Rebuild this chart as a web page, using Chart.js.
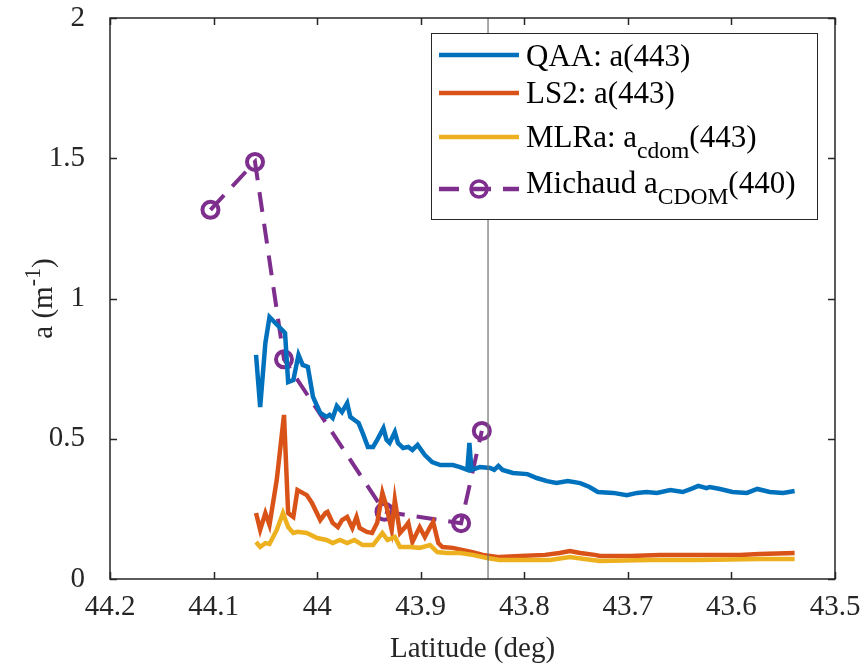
<!DOCTYPE html>
<html>
<head>
<meta charset="utf-8">
<script src="https://cdn.jsdelivr.net/npm/chart.js@4.4.1/dist/chart.umd.min.js"></script>
<style>
  html, body { margin: 0; padding: 0; background: #fff; }
</style>
</head>
<body>
<canvas id="absChart" width="867" height="669"></canvas>
<script>
// values
const qaaLat = [44.059, 44.055, 44.050, 44.046, 44.031, 44.028, 44.023, 44.018, 44.014, 44.009, 44.004, 43.997, 43.991, 43.988, 43.985, 43.981, 43.976, 43.971, 43.968, 43.964, 43.960, 43.956, 43.951, 43.946, 43.942, 43.936, 43.933, 43.930, 43.925, 43.922, 43.917, 43.912, 43.908, 43.903, 43.896, 43.889, 43.881, 43.875, 43.869, 43.862, 43.855, 43.853, 43.851, 43.843, 43.833, 43.829, 43.825, 43.821, 43.811, 43.797, 43.788, 43.778, 43.769, 43.758, 43.746, 43.737, 43.729, 43.714, 43.701, 43.691, 43.682, 43.672, 43.659, 43.647, 43.637, 43.632, 43.624, 43.621, 43.611, 43.599, 43.585, 43.575, 43.563, 43.550, 43.539];
const qaaA = [0.799, 0.613, 0.841, 0.934, 0.877, 0.702, 0.709, 0.799, 0.763, 0.756, 0.649, 0.592, 0.578, 0.585, 0.574, 0.617, 0.595, 0.627, 0.578, 0.567, 0.556, 0.520, 0.471, 0.471, 0.496, 0.538, 0.496, 0.485, 0.524, 0.485, 0.467, 0.471, 0.460, 0.478, 0.442, 0.417, 0.406, 0.406, 0.406, 0.399, 0.389, 0.485, 0.389, 0.399, 0.396, 0.389, 0.403, 0.389, 0.378, 0.374, 0.360, 0.349, 0.342, 0.349, 0.342, 0.328, 0.310, 0.307, 0.299, 0.307, 0.310, 0.307, 0.317, 0.310, 0.324, 0.332, 0.324, 0.328, 0.321, 0.310, 0.307, 0.321, 0.310, 0.307, 0.314];

const ls2Lat = [44.059, 44.055, 44.050, 44.046, 44.039, 44.032, 44.028, 44.023, 44.019, 44.014, 44.010, 44.005, 43.997, 43.992, 43.990, 43.985, 43.980, 43.976, 43.971, 43.966, 43.962, 43.959, 43.952, 43.947, 43.942, 43.937, 43.933, 43.928, 43.925, 43.920, 43.915, 43.912, 43.908, 43.901, 43.896, 43.891, 43.888, 43.883, 43.879, 43.869, 43.859, 43.850, 43.840, 43.824, 43.804, 43.780, 43.766, 43.756, 43.746, 43.732, 43.727, 43.698, 43.669, 43.631, 43.592, 43.573, 43.539];
const ls2A = [0.235, 0.175, 0.235, 0.193, 0.353, 0.585, 0.235, 0.221, 0.317, 0.307, 0.299, 0.271, 0.210, 0.235, 0.239, 0.200, 0.185, 0.210, 0.221, 0.182, 0.221, 0.182, 0.168, 0.164, 0.200, 0.307, 0.257, 0.175, 0.282, 0.164, 0.185, 0.200, 0.132, 0.185, 0.150, 0.185, 0.203, 0.128, 0.114, 0.111, 0.103, 0.096, 0.086, 0.078, 0.082, 0.086, 0.093, 0.100, 0.093, 0.086, 0.082, 0.082, 0.086, 0.086, 0.086, 0.089, 0.093];

const mlraLat = [44.059, 44.055, 44.050, 44.046, 44.039, 44.033, 44.028, 44.023, 44.019, 44.010, 44.000, 43.991, 43.985, 43.978, 43.971, 43.964, 43.956, 43.946, 43.937, 43.932, 43.925, 43.920, 43.910, 43.901, 43.891, 43.884, 43.875, 43.862, 43.850, 43.836, 43.824, 43.804, 43.775, 43.756, 43.742, 43.727, 43.679, 43.631, 43.573, 43.539];
const mlraA = [0.132, 0.114, 0.128, 0.125, 0.175, 0.235, 0.185, 0.164, 0.168, 0.164, 0.146, 0.139, 0.128, 0.139, 0.128, 0.139, 0.121, 0.121, 0.164, 0.139, 0.150, 0.114, 0.114, 0.111, 0.121, 0.096, 0.093, 0.093, 0.086, 0.075, 0.068, 0.068, 0.068, 0.078, 0.071, 0.064, 0.068, 0.068, 0.071, 0.071];

const michaudLat = [44.103, 44.060, 44.032, 43.935, 43.861, 43.841];
const michaudA = [1.316, 1.487, 0.783, 0.240, 0.199, 0.528];

const markerLat = 43.835;   // thin vertical reference line
const xTicks = [44.2, 44.1, 44.0, 43.9, 43.8, 43.7, 43.6, 43.5];
const yTicks = [0, 0.5, 1, 1.5, 2];

const FONT = '"Liberation Serif", "Times New Roman", serif';
const INK = '#262626';

function pts(xs, ys) {
    return xs.map((x, i) => ({ x: x, y: ys[i] }));
}

function fmt(v) {
    return String(Number(v.toFixed(1)));
}

// text with sub/superscripts, alphabetic baseline at y, returns end x
function drawRich(ctx, x, y, parts, size) {
    parts.forEach(p => {
        let s = size, dy = 0;
        if (p.sub) { s = size * 0.76; dy = size * 0.36; }
        if (p.sup) { s = size * 0.76; dy = -size * 0.4; }
        ctx.font = s + 'px ' + FONT;
        ctx.fillText(p.t, x, y + dy);
        x += ctx.measureText(p.t).width;
    });
    return x;
}

function richWidth(ctx, parts, size) {
    let w = 0;
    parts.forEach(p => {
        const s = (p.sub || p.sup) ? size * 0.76 : size;
        ctx.font = s + 'px ' + FONT;
        w += ctx.measureText(p.t).width;
    });
    return w;
}

const frame = {
    id: 'frame',
    afterDraw(chart) {
        const ctx = chart.ctx;
        const ca = chart.chartArea;
        const xs = chart.scales.x, ys = chart.scales.y;
        ctx.save();
        ctx.strokeStyle = INK;
        ctx.lineWidth = 1.5;
        ctx.strokeRect(ca.left, ca.top, ca.right - ca.left, ca.bottom - ca.top);
        ctx.beginPath();
        xTicks.forEach(v => {
            const px = Math.round(xs.getPixelForValue(v)) + 0.5;
            ctx.moveTo(px, ca.bottom); ctx.lineTo(px, ca.bottom - 7);
            ctx.moveTo(px, ca.top); ctx.lineTo(px, ca.top + 7);
        });
        yTicks.forEach(v => {
            const py = Math.round(ys.getPixelForValue(v)) + 0.5;
            ctx.moveTo(ca.left, py); ctx.lineTo(ca.left + 7, py);
            ctx.moveTo(ca.right, py); ctx.lineTo(ca.right - 7, py);
        });
        ctx.stroke();

        // y axis title: a (m^-1)
        ctx.fillStyle = INK;
        ctx.textBaseline = 'alphabetic';
        const yTitle = [{ t: 'a (m' }, { t: '-1', sup: true }, { t: ')' }];
        const tw = richWidth(ctx, yTitle, 29);
        ctx.translate(52, (ca.top + ca.bottom) / 2);
        ctx.rotate(-Math.PI / 2);
        drawRich(ctx, -tw / 2, 0, yTitle, 29);
        ctx.restore();

        // legend box
        ctx.save();
        const bx = ca.right - 404, by = ca.top + 15, bw = 386, bh = 186;
        ctx.fillStyle = '#fff';
        ctx.fillRect(bx, by, bw, bh);
        ctx.strokeStyle = INK;
        ctx.lineWidth = 1;
        ctx.strokeRect(bx + 0.5, by + 0.5, bw, bh);
        const rows = [
            { color: '#0072BD', lineY: 22, base: 33, parts: [{ t: 'QAA: a(443)' }] },
            { color: '#D95319', lineY: 60, base: 70, parts: [{ t: 'LS2: a(443)' }] },
            { color: '#EDB120', lineY: 104, base: 114, parts: [{ t: 'MLRa: a' }, { t: 'cdom', sub: true }, { t: '(443)' }] },
            { color: '#7E2F8E', lineY: 156, base: 160, dashed: true, parts: [{ t: 'Michaud a' }, { t: 'CDOM', sub: true }, { t: '(440)' }] }
        ];
        rows.forEach(r => {
            const ly = by + r.lineY;
            ctx.strokeStyle = r.color;
            ctx.lineWidth = 4.5;
            ctx.beginPath();
            if (r.dashed) {
                ctx.setLineDash([20, 12]);
                ctx.moveTo(bx + 8, ly); ctx.lineTo(bx + 88, ly);
                ctx.stroke();
                ctx.setLineDash([]);
                ctx.beginPath();
                ctx.lineWidth = 3.5;
                ctx.arc(bx + 48, ly, 8, 0, Math.PI * 2);
                ctx.stroke();
            } else {
                ctx.moveTo(bx + 8, ly); ctx.lineTo(bx + 88, ly);
                ctx.stroke();
            }
            ctx.fillStyle = '#000';
            drawRich(ctx, bx + 95, by + r.base, r.parts, 31);
        });
        ctx.restore();
    }
};

new Chart(document.getElementById('absChart').getContext('2d'), {
    type: 'line',
    data: {
        datasets: [{
            label: 'marker',
            data: pts([markerLat, markerLat], [0, 2]),
            borderColor: '#6f6f6f',
            borderWidth: 1.2,
            pointRadius: 0
        }, {
            label: 'MLRa: acdom(443)',
            data: pts(mlraLat, mlraA),
            borderColor: '#EDB120',
            borderWidth: 4.5,
            pointRadius: 0
        }, {
            label: 'LS2: a(443)',
            data: pts(ls2Lat, ls2A),
            borderColor: '#D95319',
            borderWidth: 4.5,
            pointRadius: 0
        }, {
            label: 'QAA: a(443)',
            data: pts(qaaLat, qaaA),
            borderColor: '#0072BD',
            borderWidth: 4.5,
            pointRadius: 0
        }, {
            label: 'Michaud aCDOM(440)',
            data: pts(michaudLat, michaudA),
            borderColor: '#7E2F8E',
            borderWidth: 4,
            borderDash: [20, 12],
            pointRadius: 8,
            pointBorderWidth: 4,
            pointBackgroundColor: 'rgba(0,0,0,0)',
            pointBorderColor: '#7E2F8E'
        }]
    },
    options: {
        responsive: false,
        animation: false,
        devicePixelRatio: 1,
        layout: { padding: { top: 18, right: 32, left: 0, bottom: 0 } },
        elements: { line: { tension: 0 } },
        plugins: { legend: { display: false }, tooltip: { enabled: false } },
        scales: {
            x: {
                type: 'linear',
                reverse: true,
                min: 43.5,
                max: 44.2,
                afterFit: s => { s.height = 90; s.paddingLeft = 0; s.paddingRight = 0; },
                afterBuildTicks: s => { s.ticks = xTicks.map(v => ({ value: v })); },
                grid: { display: false },
                border: { display: false },
                ticks: {
                    color: INK,
                    padding: 3,
                    maxRotation: 0,
                    font: { family: FONT, size: 29 },
                    callback: v => fmt(v)
                },
                title: {
                    display: true,
                    text: 'Latitude (deg)',
                    color: INK,
                    padding: { top: 0, bottom: 2 },
                    font: { family: FONT, size: 29 }
                }
            },
            y: {
                min: 0,
                max: 2,
                afterFit: s => { s.width = 110; s.paddingTop = 0; s.paddingBottom = 0; },
                afterBuildTicks: s => { s.ticks = yTicks.map(v => ({ value: v })); },
                grid: { display: false },
                border: { display: false },
                ticks: {
                    color: INK,
                    padding: 17,
                    font: { family: FONT, size: 29 },
                    callback: v => fmt(v)
                }
            }
        }
    },
    plugins: [frame]
});
</script>
</body>
</html>
